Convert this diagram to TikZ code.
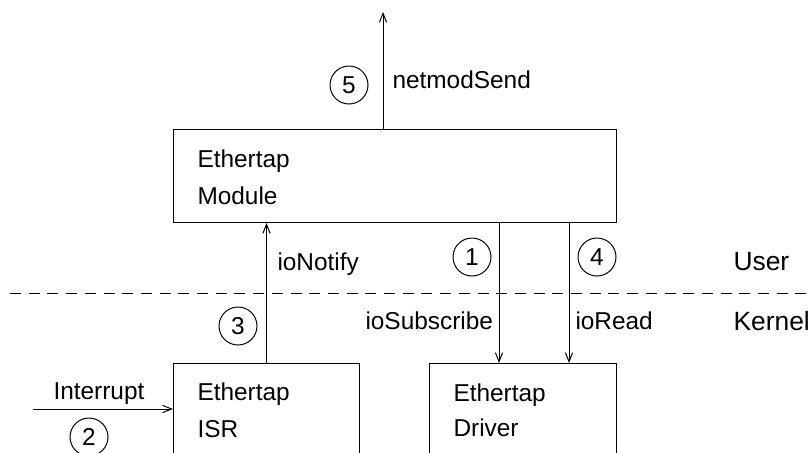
\documentclass[tikz,border=0pt]{standalone}
\usepackage{fontspec}
\setmainfont{Liberation Sans}
\usetikzlibrary{arrows.meta}
\begin{document}
\begin{tikzpicture}[x=0.5pt,y=-0.5pt,line width=0.5pt,
  box/.style={draw,rectangle,inner sep=0,anchor=north west},
  lbl/.style={anchor=base west,inner sep=0,font=\fontsize{12.2pt}{14pt}\selectfont},
  zone/.style={lbl,font=\fontsize{13.2pt}{15pt}\selectfont},
  num/.style={draw,circle,minimum size=19pt,inner sep=0,font=\fontsize{12.2pt}{14pt}\selectfont},
  flow/.style={-{Straight Barb[length=4.5pt,width=3.6pt,line width=0.5pt]}},
  divider/.style={dash pattern=on 5.5pt off 3.85pt}]
\useasboundingbox (0,0) rectangle (812,452);
\clip (0,0) rectangle (812,452);

% components
\node[box,minimum width=221.5pt,minimum height=46.5pt] (module) at (173,129) {};
\node[box,minimum width=93pt,minimum height=60pt] (isr) at (173,363) {};
\node[box,minimum width=93.5pt,minimum height=60pt] (driver) at (429,363) {};

\node[lbl] (modA) at (197,167) {Ethertap};
\node[lbl] (modB) at (197,204) {Module};
\node[lbl] (isrA) at (197,400) {Ethertap};
\node[lbl] (isrB) at (197,437) {ISR};
\node[lbl] (drvA) at (453,401) {Ethertap};
\node[lbl] (drvB) at (453,436) {Driver};

% user/kernel boundary
\coordinate (dl) at (10,293);
\coordinate (dr) at (812,293);
\draw[divider] (dl) -- (dr);
\node[zone] (user) at (733,270) {User};
\node[zone] (kernel) at (733,330) {Kernel};

% connectors
\coordinate (out) at (383,12);
\coordinate (subx) at (499,0);
\coordinate (readx) at (569,0);
\coordinate (irq) at (33,409);
\draw[flow] (module.north -| out) -- (out);
\draw[flow] (isr.north) -- (isr.north |- module.south);
\draw[flow] (module.south -| subx) -- (driver.north -| subx);
\draw[flow] (module.south -| readx) -- (driver.north -| readx);
\draw[flow] (irq) -- (irq -| isr.west);

% connector labels
\node[lbl] (send) at (392,88) {netmodSend};
\node[lbl] (notify) at (277,270) {ioNotify};
\node[lbl] (subscribe) at (365,329) {ioSubscribe};
\node[lbl] (read) at (575,329) {ioRead};
\node[lbl] (interrupt) at (53,399) {Interrupt};

% step numbers
\node[num] (n1) at (472,257) {1};
\node[num] (n2) at (89,437) {2};
\node[num] (n3) at (238,326) {3};
\node[num] (n4) at (597,257) {4};
\node[num] (n5) at (349,85) {5};
\end{tikzpicture}
\end{document}
